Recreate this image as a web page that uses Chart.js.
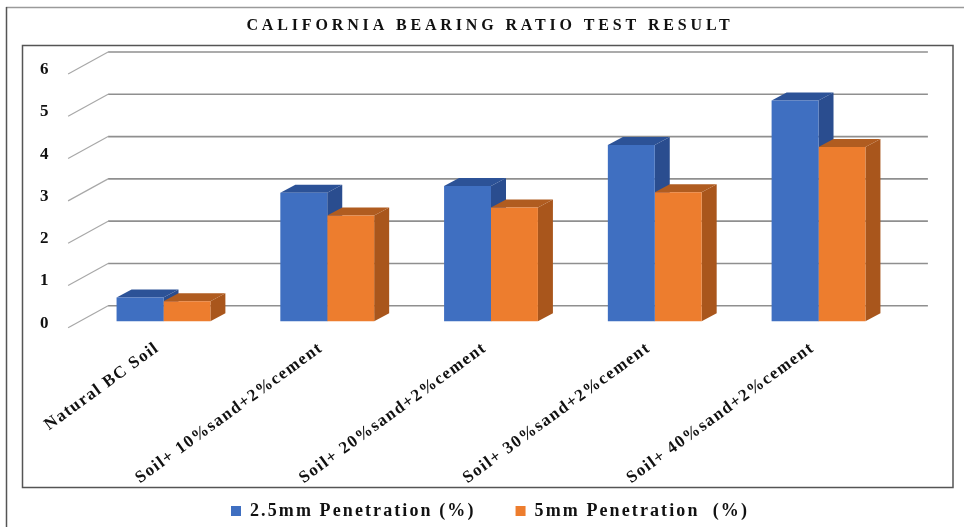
<!DOCTYPE html>
<html>
<head>
<meta charset="utf-8">
<style>
  html, body { margin: 0; padding: 0; background: #fff; }
  #wrap { position: relative; width: 964px; height: 527px; }
  #cbrChart { filter: blur(0.5px); }
</style>
<script src="https://cdn.jsdelivr.net/npm/chart.js@4"></script>
</head>
<body>
<div id="wrap"><canvas id="cbrChart" width="964" height="527"></canvas></div>
<script>
const categories = [
  'Natural BC Soil',
  'Soil+ 10%sand+2%cement',
  'Soil+ 20%sand+2%cement',
  'Soil+ 30%sand+2%cement',
  'Soil+ 40%sand+2%cement'
];
const penetration25 = [0.56, 3.04, 3.2, 4.17, 5.22];
const penetration5 = [0.47, 2.5, 2.69, 3.05, 4.12];
const yTickValues = [0, 1, 2, 3, 4, 5, 6];

const labelFont = '"Liberation Serif", serif';
const depthX = 15;
const depthY = 8;
const sideColors = ['#2a4d8f', '#a9561c'];
const topColors = ['#2c5297', '#b05c20'];

function spacedDraw(obj, method, spacing) {
  const orig = obj[method];
  obj[method] = function(...args) {
    const ctx = this.ctx;
    const old = ctx.letterSpacing;
    ctx.letterSpacing = spacing;
    orig.apply(this, args);
    ctx.letterSpacing = old;
  };
}

// frame, back wall gridlines and the bar depth faces
const depthPlugin = {
  id: 'depthPlugin',
  beforeLayout(chart) {
    chart.ctx.letterSpacing = '2.1px';
  },
  beforeDraw(chart) {
    const ctx = chart.ctx;
    ctx.letterSpacing = '2.1px';
    if (!chart.$spaced) {
      spacedDraw(chart.titleBlock, 'draw', '3.85px');
      spacedDraw(chart.scales.x, 'drawLabels', '1.4px');
      // long labels run past the bottom of the axis box, do not cut them
      chart.scales.x._computeLabelArea = () => undefined;
      chart.$spaced = true;
    }
    ctx.save();
    ctx.strokeStyle = '#9a9a9a';
    ctx.lineWidth = 1.5;
    ctx.beginPath();
    ctx.moveTo(6, 7.5);
    ctx.lineTo(964, 7.5);
    ctx.stroke();
    ctx.strokeStyle = '#555';
    ctx.beginPath();
    ctx.moveTo(6.5, 7);
    ctx.lineTo(6.5, 527);
    ctx.stroke();
    ctx.strokeRect(22.5, 45.5, 930.5, 442);
    ctx.restore();
  },
  beforeDatasetsDraw(chart) {
    const ctx = chart.ctx;
    const yScale = chart.scales.y;
    const area = chart.chartArea;
    ctx.save();
    yTickValues.forEach(v => {
      const y = yScale.getPixelForValue(v) - 15.5;
      ctx.strokeStyle = '#8f8f8f';
      ctx.lineWidth = 1.6;
      ctx.beginPath();
      ctx.moveTo(area.left + 26.5, y);
      ctx.lineTo(area.right + 27.5, y);
      ctx.stroke();
      ctx.strokeStyle = '#a8a8a8';
      ctx.lineWidth = 1.2;
      ctx.beginPath();
      ctx.moveTo(area.left + 26.5, y);
      ctx.lineTo(area.left - 13.5, y + 22);
      ctx.stroke();
    });
    chart.data.datasets.forEach((ds, i) => {
      chart.getDatasetMeta(i).data.forEach(bar => {
        const left = bar.x - bar.width / 2;
        const right = bar.x + bar.width / 2;
        ctx.fillStyle = sideColors[i];
        ctx.beginPath();
        ctx.moveTo(right, bar.y);
        ctx.lineTo(right + depthX, bar.y - depthY);
        ctx.lineTo(right + depthX, bar.base - depthY);
        ctx.lineTo(right, bar.base);
        ctx.closePath();
        ctx.fill();
        ctx.fillStyle = topColors[i];
        ctx.beginPath();
        ctx.moveTo(left, bar.y);
        ctx.lineTo(left + depthX, bar.y - depthY);
        ctx.lineTo(right + depthX, bar.y - depthY);
        ctx.lineTo(right, bar.y);
        ctx.closePath();
        ctx.fill();
      });
    });
    ctx.restore();
  }
};

new Chart(document.getElementById('cbrChart'), {
  type: 'bar',
  data: {
    labels: categories,
    datasets: [
      {
        label: '2.5mm Penetration (%)',
        data: penetration25,
        backgroundColor: '#3f6fc1',
        yAxisID: 'y'
      },
      {
        label: '5mm Penetration  (%)',
        data: penetration5,
        backgroundColor: '#ed7d2e',
        yAxisID: 'y'
      }
    ]
  },
  options: {
    responsive: false,
    animation: false,
    events: [],
    categoryPercentage: 0.573,
    barPercentage: 1,
    layout: { padding: { left: 16, right: 0, top: 0, bottom: -3 } },
    plugins: {
      tooltip: { enabled: false },
      title: {
        display: true,
        text: 'CALIFORNIA BEARING RATIO TEST RESULT',
        color: '#111',
        font: { family: labelFont, size: 16, weight: 'bold', lineHeight: 1.05 },
        padding: { top: 6, bottom: 7 }
      },
      legend: {
        position: 'bottom',
        labels: {
          boxWidth: 10,
          boxHeight: 10,
          padding: 40,
          color: '#111',
          font: { family: labelFont, size: 18, weight: 'bold' }
        }
      }
    },
    scales: {
      x: {
        grid: { display: false, drawTicks: false },
        border: { display: false },
        afterFit(scale) { scale.height = 124; },
        ticks: {
          color: '#111',
          autoSkip: false,
          minRotation: 36,
          maxRotation: 36,
          padding: 0,
          labelOffset: -6,
          font: { family: labelFont, size: 17, weight: 'bold' }
        }
      },
      // bars sit on this one, its zero is the bar floor
      y: {
        display: false,
        min: -0.397,
        max: 6.623
      },
      // tick labels sit lower, on the front edge of the floor
      yTicks: {
        position: 'left',
        min: -0.35,
        max: 6.675,
        grid: { display: false, drawTicks: false },
        border: { display: false },
        afterFit(scale) { scale.width = 65.6; },
        afterBuildTicks(scale) { scale.ticks = yTickValues.map(v => ({ value: v })); },
        ticks: {
          color: '#111',
          padding: 31,
          font: { family: labelFont, size: 17, weight: 'bold' }
        }
      },
      spacer: {
        position: 'right',
        grid: { display: false, drawTicks: false },
        border: { display: false },
        ticks: { display: false },
        afterFit(scale) { scale.width = 63.6; }
      }
    }
  },
  plugins: [depthPlugin]
});
</script>
</body>
</html>
